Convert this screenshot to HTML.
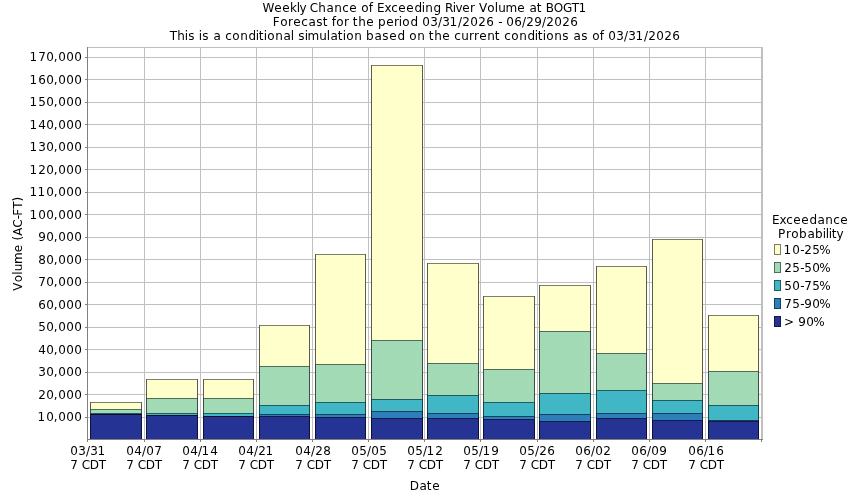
<!DOCTYPE html>
<html lang="en"><head><meta charset="utf-8"><title>Weekly Chance of Exceeding River Volume at BOGT1</title>
<style>html,body{margin:0;padding:0;background:#fff;}body{width:850px;height:500px;overflow:hidden;}svg{display:block;}text{font-family:"DejaVu Sans","Liberation Sans",sans-serif;font-size:12px;fill:#000;}</style></head><body>
<svg width="850" height="500" viewBox="0 0 850 500">
<rect x="0" y="0" width="850" height="500" fill="#ffffff"/>
<text x="262.56 274.3 282.3 290 296.83 299.44 306 309.8 318.16 326.51 334.16 342.25 349.3 357 361.33 368.63 373 377 384.47 391.25 398.3 406.3 414.4 421.83 425.16 433.4 441 444.91 452.83 455.44 462.3 469.99 475 478.9 487.33 494.83 498.23 505.62 517.3 525 529.51 536.63 542 545.71 553.78 563.01 571.83 578.58" y="11.5">Weekly Chance of Exceeding River Volume at BOGT1</text>
<text x="272.81 280.33 287.99 293.3 301.25 308.51 316.34 322.63 328 331.63 336.33 343.99 349 352.63 358.16 366.3 374 377.97 386.3 393.99 398.83 402.33 410.4 418 422.19 430.21 437.98 442.21 449.58 457.98 462.34 470.19 478.34 486.14 494 498.33 502 506.19 514.14 521.98 526.34 534.22 541.98 546.34 554.19 562.34 570.14" y="25.5">Forecast for the period 03/31/2026 - 06/29/2026</text>
<text x="169.83 177.16 184.83 188.34 195 198.83 202.34 209 213.51 221 225.25 232.33 240.16 248.4 255.83 258.63 263.83 267.33 275.16 283.51 290.83 294 298.34 304.83 307.62 319.23 326.83 330.51 337.63 342.83 346.33 354.16 362 365.97 374.51 382.34 389.3 397.4 405 409.33 417.16 425 428.63 434.16 442.3 450 454.25 461.23 468.99 473.99 479.3 487.16 494.63 500 504.25 511.33 519.16 527.4 534.83 537.63 542.83 546.33 554.16 562.34 569 573.51 581.34 588 592.33 599.63 604 608.19 616.21 623.98 628.21 635.58 643.98 648.34 656.19 664.34 672.14" y="39.5">This is a conditional simulation based on the current conditions as of 03/31/2026</text>
<g stroke="#c0c0c0" stroke-width="1" fill="none">
<line x1="87.5" y1="417.50" x2="761.5" y2="417.50"/>
<line x1="87.5" y1="394.50" x2="761.5" y2="394.50"/>
<line x1="87.5" y1="372.50" x2="761.5" y2="372.50"/>
<line x1="87.5" y1="349.50" x2="761.5" y2="349.50"/>
<line x1="87.5" y1="327.50" x2="761.5" y2="327.50"/>
<line x1="87.5" y1="304.50" x2="761.5" y2="304.50"/>
<line x1="87.5" y1="282.50" x2="761.5" y2="282.50"/>
<line x1="87.5" y1="259.50" x2="761.5" y2="259.50"/>
<line x1="87.5" y1="237.50" x2="761.5" y2="237.50"/>
<line x1="87.5" y1="214.50" x2="761.5" y2="214.50"/>
<line x1="87.5" y1="192.50" x2="761.5" y2="192.50"/>
<line x1="87.5" y1="169.50" x2="761.5" y2="169.50"/>
<line x1="87.5" y1="147.50" x2="761.5" y2="147.50"/>
<line x1="87.5" y1="124.50" x2="761.5" y2="124.50"/>
<line x1="87.5" y1="102.50" x2="761.5" y2="102.50"/>
<line x1="87.5" y1="79.50" x2="761.5" y2="79.50"/>
<line x1="87.5" y1="57.50" x2="761.5" y2="57.50"/>
<line x1="144.50" y1="47.5" x2="144.50" y2="439.5"/>
<line x1="200.50" y1="47.5" x2="200.50" y2="439.5"/>
<line x1="256.50" y1="47.5" x2="256.50" y2="439.5"/>
<line x1="312.50" y1="47.5" x2="312.50" y2="439.5"/>
<line x1="368.50" y1="47.5" x2="368.50" y2="439.5"/>
<line x1="424.50" y1="47.5" x2="424.50" y2="439.5"/>
<line x1="480.50" y1="47.5" x2="480.50" y2="439.5"/>
<line x1="537.50" y1="47.5" x2="537.50" y2="439.5"/>
<line x1="593.50" y1="47.5" x2="593.50" y2="439.5"/>
<line x1="649.50" y1="47.5" x2="649.50" y2="439.5"/>
<line x1="705.50" y1="47.5" x2="705.50" y2="439.5"/>
</g>
<path d="M87 47.5H763" stroke="#c0c0c0" stroke-width="1" fill="none"/>
<path d="M762 47V439" stroke="#c0c0c0" stroke-width="2" fill="none"/>
<g stroke="none">
<rect x="90" y="402" width="52" height="7" fill="#ffffcc"/>
<rect x="90" y="409" width="52" height="4" fill="#a1dab4"/>
<rect x="90" y="413" width="52" height="1" fill="#41b6c4"/>
<rect x="90" y="414" width="52" height="25.5" fill="#253494"/>
<rect x="146" y="379" width="52" height="19" fill="#ffffcc"/>
<rect x="146" y="398" width="52" height="15" fill="#a1dab4"/>
<rect x="146" y="413" width="52" height="2" fill="#41b6c4"/>
<rect x="146" y="415" width="52" height="24.5" fill="#253494"/>
<rect x="203" y="379" width="51" height="19" fill="#ffffcc"/>
<rect x="203" y="398" width="51" height="15" fill="#a1dab4"/>
<rect x="203" y="413" width="51" height="3" fill="#41b6c4"/>
<rect x="203" y="416" width="51" height="23.5" fill="#253494"/>
<rect x="259" y="325" width="51" height="41" fill="#ffffcc"/>
<rect x="259" y="366" width="51" height="39" fill="#a1dab4"/>
<rect x="259" y="405" width="51" height="9" fill="#41b6c4"/>
<rect x="259" y="414" width="51" height="2" fill="#2c7fb8"/>
<rect x="259" y="416" width="51" height="23.5" fill="#253494"/>
<rect x="315" y="254" width="51" height="110" fill="#ffffcc"/>
<rect x="315" y="364" width="51" height="38" fill="#a1dab4"/>
<rect x="315" y="402" width="51" height="12" fill="#41b6c4"/>
<rect x="315" y="414" width="51" height="3" fill="#2c7fb8"/>
<rect x="315" y="417" width="51" height="22.5" fill="#253494"/>
<rect x="371" y="65" width="52" height="275" fill="#ffffcc"/>
<rect x="371" y="340" width="52" height="59" fill="#a1dab4"/>
<rect x="371" y="399" width="52" height="12" fill="#41b6c4"/>
<rect x="371" y="411" width="52" height="7" fill="#2c7fb8"/>
<rect x="371" y="418" width="52" height="21.5" fill="#253494"/>
<rect x="427" y="263" width="52" height="100" fill="#ffffcc"/>
<rect x="427" y="363" width="52" height="32" fill="#a1dab4"/>
<rect x="427" y="395" width="52" height="18" fill="#41b6c4"/>
<rect x="427" y="413" width="52" height="5" fill="#2c7fb8"/>
<rect x="427" y="418" width="52" height="21.5" fill="#253494"/>
<rect x="483" y="296" width="52" height="73" fill="#ffffcc"/>
<rect x="483" y="369" width="52" height="33" fill="#a1dab4"/>
<rect x="483" y="402" width="52" height="14" fill="#41b6c4"/>
<rect x="483" y="416" width="52" height="3" fill="#2c7fb8"/>
<rect x="483" y="419" width="52" height="20.5" fill="#253494"/>
<rect x="539" y="285" width="52" height="46" fill="#ffffcc"/>
<rect x="539" y="331" width="52" height="62" fill="#a1dab4"/>
<rect x="539" y="393" width="52" height="21" fill="#41b6c4"/>
<rect x="539" y="414" width="52" height="7" fill="#2c7fb8"/>
<rect x="539" y="421" width="52" height="18.5" fill="#253494"/>
<rect x="596" y="266" width="51" height="87" fill="#ffffcc"/>
<rect x="596" y="353" width="51" height="37" fill="#a1dab4"/>
<rect x="596" y="390" width="51" height="23" fill="#41b6c4"/>
<rect x="596" y="413" width="51" height="5" fill="#2c7fb8"/>
<rect x="596" y="418" width="51" height="21.5" fill="#253494"/>
<rect x="652" y="239" width="51" height="144" fill="#ffffcc"/>
<rect x="652" y="383" width="51" height="17" fill="#a1dab4"/>
<rect x="652" y="400" width="51" height="13" fill="#41b6c4"/>
<rect x="652" y="413" width="51" height="7" fill="#2c7fb8"/>
<rect x="652" y="420" width="51" height="19.5" fill="#253494"/>
<rect x="708" y="315" width="51" height="56" fill="#ffffcc"/>
<rect x="708" y="371" width="51" height="34" fill="#a1dab4"/>
<rect x="708" y="405" width="51" height="15" fill="#41b6c4"/>
<rect x="708" y="420" width="51" height="1" fill="#2c7fb8"/>
<rect x="708" y="421" width="51" height="18.5" fill="#253494"/>
</g>
<g stroke="#000000" stroke-width="1" stroke-opacity="0.64" fill="none">
<path d="M90.5 439V402M141.5 439V402M146.5 439V379M197.5 439V379M203.5 439V379M253.5 439V379M259.5 439V325M309.5 439V325M315.5 439V254M365.5 439V254M371.5 439V65M422.5 439V65M427.5 439V263M478.5 439V263M483.5 439V296M534.5 439V296M539.5 439V285M590.5 439V285M596.5 439V266M646.5 439V266M652.5 439V239M702.5 439V239M708.5 439V315M758.5 439V315"/>
</g>
<g stroke="#000000" stroke-width="1" stroke-opacity="0.5" fill="none">
<path d="M91 402.5H141M91 409.5H141M91 413.5H141M91 414.5H141M147 379.5H197M147 398.5H197M147 413.5H197M147 415.5H197M204 379.5H253M204 398.5H253M204 413.5H253M204 416.5H253M260 325.5H309M260 366.5H309M260 405.5H309M260 414.5H309M260 416.5H309M316 254.5H365M316 364.5H365M316 402.5H365M316 414.5H365M316 417.5H365M372 65.5H422M372 340.5H422M372 399.5H422M372 411.5H422M372 418.5H422M428 263.5H478M428 363.5H478M428 395.5H478M428 413.5H478M428 418.5H478M484 296.5H534M484 369.5H534M484 402.5H534M484 416.5H534M484 419.5H534M540 285.5H590M540 331.5H590M540 393.5H590M540 414.5H590M540 421.5H590M597 266.5H646M597 353.5H646M597 390.5H646M597 413.5H646M597 418.5H646M653 239.5H702M653 383.5H702M653 400.5H702M653 413.5H702M653 420.5H702M709 315.5H758M709 371.5H758M709 405.5H758M709 420.5H758M709 421.5H758"/>
<path d="M91 414.5H141M147 415.5H197M204 416.5H253"/>
</g>
<g stroke="#808080" stroke-width="1" fill="none">
<line x1="87.5" y1="47" x2="87.5" y2="440"/>
<line x1="87" y1="439.5" x2="763" y2="439.5"/>
<line x1="85" y1="417.50" x2="87.5" y2="417.50"/>
<line x1="85" y1="394.50" x2="87.5" y2="394.50"/>
<line x1="85" y1="372.50" x2="87.5" y2="372.50"/>
<line x1="85" y1="349.50" x2="87.5" y2="349.50"/>
<line x1="85" y1="327.50" x2="87.5" y2="327.50"/>
<line x1="85" y1="304.50" x2="87.5" y2="304.50"/>
<line x1="85" y1="282.50" x2="87.5" y2="282.50"/>
<line x1="85" y1="259.50" x2="87.5" y2="259.50"/>
<line x1="85" y1="237.50" x2="87.5" y2="237.50"/>
<line x1="85" y1="214.50" x2="87.5" y2="214.50"/>
<line x1="85" y1="192.50" x2="87.5" y2="192.50"/>
<line x1="85" y1="169.50" x2="87.5" y2="169.50"/>
<line x1="85" y1="147.50" x2="87.5" y2="147.50"/>
<line x1="85" y1="124.50" x2="87.5" y2="124.50"/>
<line x1="85" y1="102.50" x2="87.5" y2="102.50"/>
<line x1="85" y1="79.50" x2="87.5" y2="79.50"/>
<line x1="85" y1="57.50" x2="87.5" y2="57.50"/>
<line x1="87.50" y1="440" x2="87.50" y2="442"/>
<line x1="144.50" y1="440" x2="144.50" y2="442"/>
<line x1="200.50" y1="440" x2="200.50" y2="442"/>
<line x1="256.50" y1="440" x2="256.50" y2="442"/>
<line x1="312.50" y1="440" x2="312.50" y2="442"/>
<line x1="368.50" y1="440" x2="368.50" y2="442"/>
<line x1="424.50" y1="440" x2="424.50" y2="442"/>
<line x1="480.50" y1="440" x2="480.50" y2="442"/>
<line x1="537.50" y1="440" x2="537.50" y2="442"/>
<line x1="593.50" y1="440" x2="593.50" y2="442"/>
<line x1="649.50" y1="440" x2="649.50" y2="442"/>
<line x1="705.50" y1="440" x2="705.50" y2="442"/>
<line x1="761.50" y1="440" x2="761.50" y2="442"/>
</g>
<text x="37.58 46.19 53.71 58.19 66.19 74.19" y="420.8">10,000</text>
<text x="38.34 46.19 53.71 58.19 66.19 74.19" y="398.8">20,000</text>
<text x="38.21 46.19 53.71 58.19 66.19 74.19" y="375.8">30,000</text>
<text x="38.22 46.19 53.71 58.19 66.19 74.19" y="353.8">40,000</text>
<text x="38.24 46.19 53.71 58.19 66.19 74.19" y="330.8">50,000</text>
<text x="38.14 46.19 53.71 58.19 66.19 74.19" y="308.8">60,000</text>
<text x="38.21 46.19 53.71 58.19 66.19 74.19" y="285.8">70,000</text>
<text x="38.19 46.19 53.71 58.19 66.19 74.19" y="263.8">80,000</text>
<text x="38.22 46.19 53.71 58.19 66.19 74.19" y="240.8">90,000</text>
<text x="29.58 38.19 46.19 53.71 58.19 66.19 74.19" y="218.8">100,000</text>
<text x="29.58 37.58 46.19 53.71 58.19 66.19 74.19" y="195.8">110,000</text>
<text x="29.58 38.34 46.19 53.71 58.19 66.19 74.19" y="173.8">120,000</text>
<text x="29.58 38.21 46.19 53.71 58.19 66.19 74.19" y="150.8">130,000</text>
<text x="29.58 38.22 46.19 53.71 58.19 66.19 74.19" y="128.8">140,000</text>
<text x="29.58 38.24 46.19 53.71 58.19 66.19 74.19" y="105.8">150,000</text>
<text x="29.58 38.14 46.19 53.71 58.19 66.19 74.19" y="83.8">160,000</text>
<text x="29.58 38.21 46.19 53.71 58.19 66.19 74.19" y="60.8">170,000</text>
<text x="70.19 78.21 85.98 90.21 97.58" y="455">03/31</text>
<text x="70.21 78 81.8 89.65 98.83" y="469">7 CDT</text>
<text x="126.19 134.22 141.98 146.19 154.21" y="455">04/07</text>
<text x="126.21 134 137.8 145.65 154.83" y="469">7 CDT</text>
<text x="182.19 190.22 197.98 201.58 210.22" y="455">04/14</text>
<text x="182.21 190 193.8 201.65 210.83" y="469">7 CDT</text>
<text x="238.19 246.22 253.98 258.34 265.58" y="455">04/21</text>
<text x="238.21 246 249.8 257.65 266.83" y="469">7 CDT</text>
<text x="295.19 303.22 310.98 315.34 323.19" y="455">04/28</text>
<text x="295.21 303 306.8 314.65 323.83" y="469">7 CDT</text>
<text x="351.19 359.24 366.98 371.19 379.24" y="455">05/05</text>
<text x="351.21 359 362.8 370.65 379.83" y="469">7 CDT</text>
<text x="407.19 415.24 422.98 426.58 435.34" y="455">05/12</text>
<text x="407.21 415 418.8 426.65 435.83" y="469">7 CDT</text>
<text x="463.19 471.24 478.98 482.58 491.22" y="455">05/19</text>
<text x="463.21 471 474.8 482.65 491.83" y="469">7 CDT</text>
<text x="519.19 527.24 534.98 539.34 547.14" y="455">05/26</text>
<text x="519.21 527 530.8 538.65 547.83" y="469">7 CDT</text>
<text x="575.19 583.14 590.98 595.19 603.34" y="455">06/02</text>
<text x="575.21 583 586.8 594.65 603.83" y="469">7 CDT</text>
<text x="631.19 639.14 646.98 651.19 659.22" y="455">06/09</text>
<text x="631.21 639 642.8 650.65 659.83" y="469">7 CDT</text>
<text x="688.19 696.14 703.98 707.58 716.14" y="455">06/16</text>
<text x="688.21 696 699.8 707.65 716.83" y="469">7 CDT</text>
<text x="409.65 419.51 426.63 432.3" y="490">Date</text>
<text x="-47.1 -38.67 -31.17 -27.77 -20.38 -8.7 -1 3.12 7.9 15.8 24.33 27.81 34.83 42.2" y="0" transform="translate(22 243.6) rotate(-90)">Volume (AC-FT)</text>
<text x="772 779.47 786.25 793.3 801.3 809.4 817.51 825.16 833.25 840.3" y="223.7">Exceedance</text>
<text x="778 785.99 791.33 798.97 807.51 814.97 822.83 825.83 828.83 831.63 836.44" y="237.6">Probability</text>
<rect x="774" y="244" width="7" height="11" fill="#ffffcc"/>
<rect x="774.5" y="244.5" width="6" height="10" fill="none" stroke="#000000" stroke-opacity="0.5" stroke-width="1"/>
<text x="783.58 792.19 800.33 804.34 812.24 819.3" y="254">10-25%</text>
<rect x="774" y="262" width="7" height="11" fill="#a1dab4"/>
<rect x="774.5" y="262.5" width="6" height="10" fill="none" stroke="#000000" stroke-opacity="0.5" stroke-width="1"/>
<text x="784.34 792.24 800.33 804.24 812.19 819.3" y="272">25-50%</text>
<rect x="774" y="280" width="7" height="11" fill="#41b6c4"/>
<rect x="774.5" y="280.5" width="6" height="10" fill="none" stroke="#000000" stroke-opacity="0.5" stroke-width="1"/>
<text x="784.24 792.19 800.33 804.21 812.24 819.3" y="290">50-75%</text>
<rect x="774" y="298" width="7" height="11" fill="#2c7fb8"/>
<rect x="774.5" y="298.5" width="6" height="10" fill="none" stroke="#000000" stroke-opacity="0.5" stroke-width="1"/>
<text x="784.21 792.24 800.33 804.22 812.19 819.3" y="308">75-90%</text>
<rect x="774" y="316" width="7" height="11" fill="#253494"/>
<rect x="774.5" y="316.5" width="6" height="10" fill="none" stroke="#000000" stroke-opacity="0.5" stroke-width="1"/>
<text x="783.98 794 798.22 806.19 813.3" y="326">&gt; 90%</text>
</svg></body></html>
